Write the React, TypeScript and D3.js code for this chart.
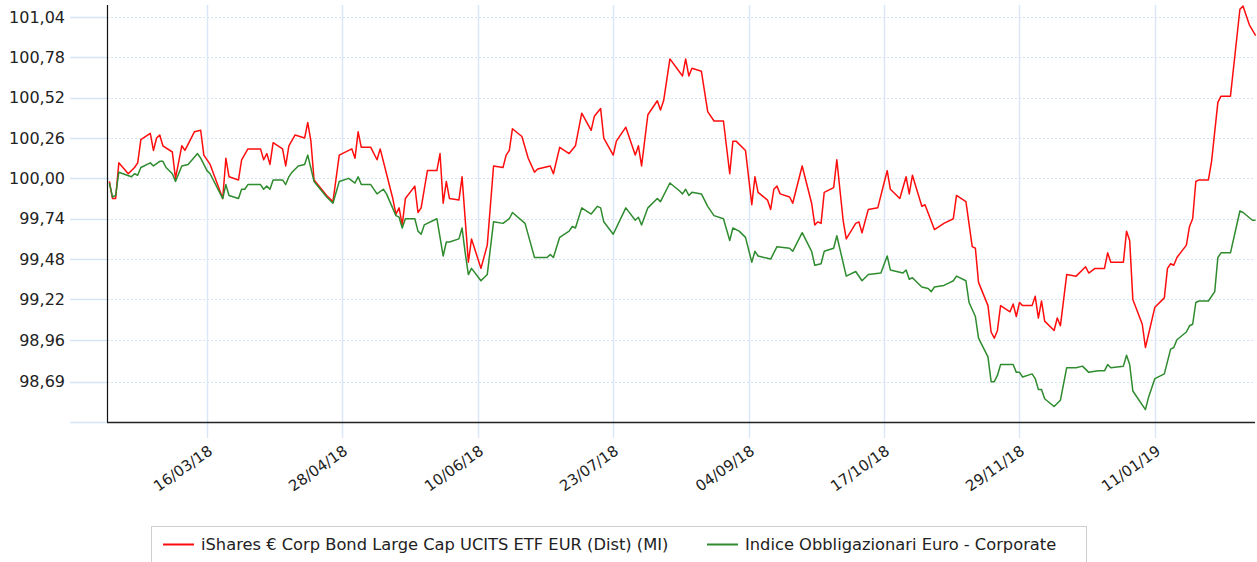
import React, { useEffect, useRef } from 'react';
import * as d3 from 'd3';

// iShares € Corp Bond Large Cap (red)
const isharesData: [string, number][] = [
  ['2018-02-13', 99.98], ['2018-02-14', 99.87], ['2018-02-15', 99.87], ['2018-02-16', 100.1], ['2018-02-19', 100.03],
  ['2018-02-21', 100.07], ['2018-02-22', 100.1], ['2018-02-23', 100.25], ['2018-02-26', 100.29], ['2018-02-27', 100.18],
  ['2018-02-28', 100.26], ['2018-03-01', 100.28], ['2018-03-02', 100.21], ['2018-03-05', 100.17], ['2018-03-06', 100.0],
  ['2018-03-08', 100.21], ['2018-03-09', 100.18], ['2018-03-12', 100.3], ['2018-03-14', 100.31], ['2018-03-15', 100.15],
  ['2018-03-17', 100.09], ['2018-03-19', 99.98], ['2018-03-21', 99.87], ['2018-03-22', 100.13], ['2018-03-23', 100.01],
  ['2018-03-26', 99.99], ['2018-03-27', 100.12], ['2018-03-29', 100.19], ['2018-04-01', 100.19], ['2018-04-02', 100.19],
  ['2018-04-03', 100.12], ['2018-04-04', 100.16], ['2018-04-05', 100.09], ['2018-04-06', 100.23], ['2018-04-09', 100.19],
  ['2018-04-10', 100.08], ['2018-04-11', 100.21], ['2018-04-13', 100.28], ['2018-04-16', 100.26], ['2018-04-17', 100.36],
  ['2018-04-18', 100.24], ['2018-04-19', 99.99], ['2018-04-23', 99.89], ['2018-04-25', 99.85], ['2018-04-27', 100.15],
  ['2018-05-01', 100.19], ['2018-05-02', 100.13], ['2018-05-03', 100.3], ['2018-05-04', 100.2], ['2018-05-07', 100.2],
  ['2018-05-09', 100.12], ['2018-05-10', 100.19], ['2018-05-14', 99.87], ['2018-05-15', 99.77], ['2018-05-16', 99.81],
  ['2018-05-17', 99.7], ['2018-05-18', 99.87], ['2018-05-21', 99.95], ['2018-05-22', 99.78], ['2018-05-23', 99.81],
  ['2018-05-25', 100.05], ['2018-05-28', 100.05], ['2018-05-29', 100.16], ['2018-05-30', 99.84], ['2018-05-31', 99.98],
  ['2018-06-01', 99.87], ['2018-06-04', 99.86], ['2018-06-05', 100.01], ['2018-06-07', 99.46], ['2018-06-08', 99.61],
  ['2018-06-11', 99.42], ['2018-06-13', 99.57], ['2018-06-15', 100.08], ['2018-06-18', 100.07], ['2018-06-19', 100.15],
  ['2018-06-20', 100.18], ['2018-06-21', 100.32], ['2018-06-24', 100.27], ['2018-06-26', 100.13], ['2018-06-28', 100.04],
  ['2018-06-29', 100.06], ['2018-07-03', 100.08], ['2018-07-04', 100.03], ['2018-07-06', 100.2], ['2018-07-09', 100.16],
  ['2018-07-11', 100.21], ['2018-07-13', 100.42], ['2018-07-16', 100.31], ['2018-07-17', 100.4], ['2018-07-19', 100.45],
  ['2018-07-20', 100.26], ['2018-07-23', 100.15], ['2018-07-24', 100.24], ['2018-07-27', 100.33], ['2018-07-30', 100.15],
  ['2018-07-31', 100.21], ['2018-08-01', 100.08], ['2018-08-03', 100.41], ['2018-08-06', 100.5], ['2018-08-07', 100.44],
  ['2018-08-08', 100.5], ['2018-08-10', 100.77], ['2018-08-14', 100.66], ['2018-08-15', 100.77], ['2018-08-16', 100.66],
  ['2018-08-17', 100.71], ['2018-08-20', 100.69], ['2018-08-22', 100.43], ['2018-08-24', 100.37], ['2018-08-27', 100.37],
  ['2018-08-29', 100.03], ['2018-08-30', 100.24], ['2018-08-31', 100.24], ['2018-09-03', 100.18], ['2018-09-05', 99.83],
  ['2018-09-06', 100.01], ['2018-09-07', 99.91], ['2018-09-10', 99.86], ['2018-09-11', 99.8], ['2018-09-12', 99.93],
  ['2018-09-13', 99.95], ['2018-09-14', 99.9], ['2018-09-17', 99.88], ['2018-09-18', 99.84], ['2018-09-19', 99.92],
  ['2018-09-21', 100.08], ['2018-09-24', 99.84], ['2018-09-25', 99.7], ['2018-09-26', 99.72], ['2018-09-27', 99.71],
  ['2018-09-28', 99.91], ['2018-10-01', 99.94], ['2018-10-02', 100.12], ['2018-10-04', 99.73], ['2018-10-05', 99.61],
  ['2018-10-08', 99.71], ['2018-10-09', 99.72], ['2018-10-10', 99.65], ['2018-10-12', 99.8], ['2018-10-15', 99.81],
  ['2018-10-17', 99.97], ['2018-10-18', 100.05], ['2018-10-19', 99.93], ['2018-10-22', 99.87], ['2018-10-24', 100.01],
  ['2018-10-25', 99.9], ['2018-10-26', 100.02], ['2018-10-29', 99.82], ['2018-10-30', 99.83], ['2018-11-02', 99.67],
  ['2018-11-05', 99.71], ['2018-11-08', 99.74], ['2018-11-09', 99.89], ['2018-11-12', 99.85], ['2018-11-14', 99.56],
  ['2018-11-15', 99.55], ['2018-11-16', 99.33], ['2018-11-19', 99.18], ['2018-11-20', 99.01], ['2018-11-21', 98.97],
  ['2018-11-22', 99.02], ['2018-11-23', 99.18], ['2018-11-26', 99.14], ['2018-11-27', 99.19], ['2018-11-28', 99.11],
  ['2018-11-29', 99.2], ['2018-11-30', 99.18], ['2018-12-03', 99.18], ['2018-12-04', 99.24], ['2018-12-05', 99.1],
  ['2018-12-06', 99.21], ['2018-12-07', 99.08], ['2018-12-10', 99.02], ['2018-12-11', 99.1], ['2018-12-12', 99.05],
  ['2018-12-14', 99.38], ['2018-12-17', 99.37], ['2018-12-20', 99.43], ['2018-12-21', 99.39], ['2018-12-23', 99.42],
  ['2018-12-26', 99.42], ['2018-12-27', 99.52], ['2018-12-28', 99.46], ['2019-01-01', 99.46], ['2019-01-02', 99.66],
  ['2019-01-03', 99.6], ['2019-01-04', 99.22], ['2019-01-07', 99.06], ['2019-01-08', 98.91], ['2019-01-11', 99.17],
  ['2019-01-14', 99.23], ['2019-01-15', 99.42], ['2019-01-16', 99.45], ['2019-01-17', 99.44], ['2019-01-18', 99.49],
  ['2019-01-21', 99.57], ['2019-01-22', 99.69], ['2019-01-23', 99.74], ['2019-01-24', 99.98], ['2019-01-25', 99.99],
  ['2019-01-28', 99.99], ['2019-01-29', 100.11], ['2019-01-31', 100.49], ['2019-02-01', 100.53], ['2019-02-04', 100.53],
  ['2019-02-07', 101.09], ['2019-02-08', 101.11], ['2019-02-10', 100.99], ['2019-02-12', 100.92],
];

// Indice Obbligazionari Euro - Corporate (green)
const indexData: [string, number][] = [
  ['2018-02-13', 99.97], ['2018-02-14', 99.88], ['2018-02-15', 99.89], ['2018-02-16', 100.04], ['2018-02-20', 100.01],
  ['2018-02-21', 100.03], ['2018-02-22', 100.02], ['2018-02-23', 100.07], ['2018-02-26', 100.1], ['2018-02-27', 100.08],
  ['2018-03-01', 100.11], ['2018-03-02', 100.11], ['2018-03-03', 100.07], ['2018-03-05', 100.03], ['2018-03-06', 99.98],
  ['2018-03-08', 100.08], ['2018-03-10', 100.09], ['2018-03-13', 100.16], ['2018-03-14', 100.13], ['2018-03-16', 100.05],
  ['2018-03-17', 100.03], ['2018-03-21', 99.87], ['2018-03-22', 99.96], ['2018-03-23', 99.89], ['2018-03-26', 99.87],
  ['2018-03-27', 99.93], ['2018-03-28', 99.93], ['2018-03-29', 99.96], ['2018-04-02', 99.96], ['2018-04-03', 99.93],
  ['2018-04-04', 99.95], ['2018-04-05', 99.93], ['2018-04-06', 99.99], ['2018-04-09', 99.99], ['2018-04-10', 99.96],
  ['2018-04-11', 100.01], ['2018-04-12', 100.04], ['2018-04-14', 100.08], ['2018-04-16', 100.09], ['2018-04-17', 100.15],
  ['2018-04-19', 99.98], ['2018-04-21', 99.93], ['2018-04-23', 99.88], ['2018-04-25', 99.84], ['2018-04-27', 99.98],
  ['2018-04-30', 100.0], ['2018-05-02', 99.97], ['2018-05-03', 100.01], ['2018-05-04', 99.96], ['2018-05-07', 99.96],
  ['2018-05-09', 99.9], ['2018-05-11', 99.93], ['2018-05-12', 99.9], ['2018-05-15', 99.76], ['2018-05-16', 99.75],
  ['2018-05-17', 99.68], ['2018-05-18', 99.74], ['2018-05-21', 99.74], ['2018-05-22', 99.66], ['2018-05-23', 99.64],
  ['2018-05-24', 99.7], ['2018-05-28', 99.74], ['2018-05-30', 99.5], ['2018-05-31', 99.59], ['2018-06-01', 99.59],
  ['2018-06-04', 99.61], ['2018-06-05', 99.68], ['2018-06-06', 99.52], ['2018-06-07', 99.38], ['2018-06-08', 99.42],
  ['2018-06-11', 99.34], ['2018-06-13', 99.38], ['2018-06-15', 99.72], ['2018-06-18', 99.71], ['2018-06-20', 99.74],
  ['2018-06-21', 99.78], ['2018-06-25', 99.71], ['2018-06-28', 99.49], ['2018-07-02', 99.49], ['2018-07-03', 99.51],
  ['2018-07-04', 99.49], ['2018-07-06', 99.62], ['2018-07-09', 99.66], ['2018-07-10', 99.69], ['2018-07-11', 99.68],
  ['2018-07-13', 99.81], ['2018-07-16', 99.77], ['2018-07-18', 99.82], ['2018-07-19', 99.81], ['2018-07-20', 99.72],
  ['2018-07-23', 99.64], ['2018-07-27', 99.81], ['2018-07-30', 99.73], ['2018-07-31', 99.75], ['2018-08-01', 99.7],
  ['2018-08-03', 99.81], ['2018-08-06', 99.87], ['2018-08-07', 99.85], ['2018-08-10', 99.97], ['2018-08-13', 99.92],
  ['2018-08-14', 99.9], ['2018-08-15', 99.93], ['2018-08-16', 99.89], ['2018-08-17', 99.91], ['2018-08-20', 99.9],
  ['2018-08-22', 99.82], ['2018-08-24', 99.76], ['2018-08-27', 99.74], ['2018-08-29', 99.6], ['2018-08-30', 99.68],
  ['2018-09-01', 99.66], ['2018-09-03', 99.62], ['2018-09-05', 99.46], ['2018-09-06', 99.53], ['2018-09-07', 99.5],
  ['2018-09-11', 99.48], ['2018-09-13', 99.56], ['2018-09-17', 99.55], ['2018-09-18', 99.53], ['2018-09-21', 99.65],
  ['2018-09-24', 99.53], ['2018-09-25', 99.44], ['2018-09-27', 99.45], ['2018-09-28', 99.53], ['2018-10-01', 99.55],
  ['2018-10-02', 99.63], ['2018-10-05', 99.37], ['2018-10-08', 99.4], ['2018-10-10', 99.34], ['2018-10-12', 99.38],
  ['2018-10-16', 99.39], ['2018-10-18', 99.5], ['2018-10-19', 99.41], ['2018-10-23', 99.39], ['2018-10-24', 99.41],
  ['2018-10-25', 99.35], ['2018-10-26', 99.36], ['2018-10-29', 99.3], ['2018-10-31', 99.29], ['2018-11-01', 99.27],
  ['2018-11-02', 99.3], ['2018-11-05', 99.31], ['2018-11-07', 99.33], ['2018-11-08', 99.34], ['2018-11-09', 99.37],
  ['2018-11-12', 99.34], ['2018-11-13', 99.2], ['2018-11-15', 99.11], ['2018-11-16', 98.97], ['2018-11-19', 98.85],
  ['2018-11-20', 98.69], ['2018-11-21', 98.69], ['2018-11-22', 98.73], ['2018-11-23', 98.8], ['2018-11-27', 98.8],
  ['2018-11-28', 98.75], ['2018-11-29', 98.75], ['2018-11-30', 98.72], ['2018-12-03', 98.74], ['2018-12-04', 98.71],
  ['2018-12-05', 98.64], ['2018-12-06', 98.64], ['2018-12-07', 98.58], ['2018-12-10', 98.53], ['2018-12-12', 98.57],
  ['2018-12-14', 98.78], ['2018-12-17', 98.78], ['2018-12-19', 98.79], ['2018-12-21', 98.75], ['2018-12-24', 98.76],
  ['2018-12-26', 98.76], ['2018-12-27', 98.8], ['2018-12-28', 98.78], ['2019-01-01', 98.79], ['2019-01-02', 98.86],
  ['2019-01-03', 98.8], ['2019-01-04', 98.63], ['2019-01-08', 98.51], ['2019-01-09', 98.59], ['2019-01-11', 98.71],
  ['2019-01-14', 98.74], ['2019-01-16', 98.9], ['2019-01-17', 98.91], ['2019-01-18', 98.96], ['2019-01-21', 99.01],
  ['2019-01-22', 99.05], ['2019-01-23', 99.06], ['2019-01-24', 99.2], ['2019-01-25', 99.21], ['2019-01-28', 99.21],
  ['2019-01-30', 99.27], ['2019-01-31', 99.49], ['2019-02-01', 99.52], ['2019-02-04', 99.52], ['2019-02-07', 99.79],
  ['2019-02-08', 99.78], ['2019-02-11', 99.73], ['2019-02-12', 99.73],
];

const xTickDates = ['2018-03-16', '2018-04-28', '2018-06-10', '2018-07-23', '2018-09-04', '2018-10-17', '2018-11-29', '2019-01-11'];
const yTickValues = [101.04, 100.78, 100.52, 100.26, 100.0, 99.74, 99.48, 99.22, 98.96, 98.69];
const yBottom = 98.43;
const xStart = '2018-02-12T06:00';
const xEnd = '2019-02-11T19:00';

const seriesNames = ['iShares € Corp Bond Large Cap UCITS ETF EUR (Dist) (MI)', 'Indice Obbligazionari Euro - Corporate'];
const seriesColors = ['#ff0d0d', '#2e8b2e'];

const WIDTH = 1257;
const HEIGHT = 562;
const FONT = '"DejaVu Sans", Verdana, sans-serif';

const App = () => {
  const svgRef = useRef<SVGSVGElement | null>(null);

  useEffect(() => {
    if (!svgRef.current) return;
    const svg = d3.select(svgRef.current);
    svg.selectAll('*').remove();

    const parseDay = d3.utcParse('%Y-%m-%d');
    const parseTime = d3.utcParse('%Y-%m-%dT%H:%M');
    const fmtDate = d3.utcFormat('%d/%m/%y');
    const fmtVal = (v: number) => d3.format('.2f')(v).replace('.', ',');

    // plot box
    const left = 107;
    const right = 1255;
    const top = 5;
    const bottom = 422;

    const x = d3
      .scaleUtc()
      .domain([parseTime(xStart) as Date, parseTime(xEnd) as Date])
      .range([left, right]);
    const y = d3.scaleLinear().domain([yBottom, yTickValues[0]]).range([bottom, 17]);

    svg.append('rect').attr('width', WIDTH).attr('height', HEIGHT).attr('fill', '#fff');

    // horizontal grid (dotted) + short solid ticks on the left
    const hTicks = [...yTickValues, yBottom];
    const hg = svg.append('g');
    hTicks.forEach((v) => {
      const yy = Math.round(y(v)) + 0.5;
      hg.append('line')
        .attr('x1', 70).attr('x2', left)
        .attr('y1', yy).attr('y2', yy)
        .attr('stroke', '#d6e5f6').attr('stroke-width', 1.5);
      hg.append('line')
        .attr('x1', left).attr('x2', right)
        .attr('y1', yy).attr('y2', yy)
        .attr('stroke', '#d3e1f2').attr('stroke-width', 1)
        .attr('stroke-dasharray', '2,2');
    });
    // y labels
    yTickValues.forEach((v) => {
      svg.append('text')
        .attr('x', 65)
        .attr('y', y(v))
        .attr('dy', '0.36em')
        .attr('text-anchor', 'end')
        .attr('font-family', FONT)
        .attr('font-size', 16)
        .attr('fill', '#222')
        .text(fmtVal(v));
    });

    // vertical grid + rotated date labels
    const vg = svg.append('g');
    xTickDates.forEach((s) => {
      const d = parseDay(s) as Date;
      const xx = Math.round(x(d)) + 0.5;
      vg.append('line')
        .attr('x1', xx).attr('x2', xx)
        .attr('y1', top).attr('y2', 438)
        .attr('stroke', '#d9e7f7').attr('stroke-width', 1.5);
      svg.append('text')
        .attr('transform', `translate(${xx + 3},${449}) rotate(-35)`)
        .attr('text-anchor', 'end')
        .attr('dy', '0.35em')
        .attr('font-family', FONT)
        .attr('font-size', 15)
        .attr('fill', '#222')
        .text(fmtDate(d));
    });

    // series lines
    const line = d3
      .line<[string, number]>()
      .x((d) => x(parseDay(d[0]) as Date))
      .y((d) => y(d[1]));

    [isharesData, indexData].forEach((data, i) => {
      svg.append('path')
        .datum(data)
        .attr('fill', 'none')
        .attr('stroke', seriesColors[i])
        .attr('stroke-width', 1.5)
        .attr('stroke-linejoin', 'round')
        .attr('d', line);
    });

    // axes lines
    svg.append('line')
      .attr('x1', left + 0.5).attr('x2', left + 0.5)
      .attr('y1', top).attr('y2', bottom)
      .attr('stroke', '#111').attr('stroke-width', 1.2);
    svg.append('line')
      .attr('x1', left).attr('x2', right)
      .attr('y1', bottom + 0.5).attr('y2', bottom + 0.5)
      .attr('stroke', '#222').attr('stroke-width', 1.5);

    // legend
    const lg = svg.append('g');
    lg.append('rect')
      .attr('x', 151.5).attr('y', 526.5)
      .attr('width', 935).attr('height', 50)
      .attr('fill', '#fff').attr('stroke', '#cfcfcf');
    const items = [
      { lx: 163, tx: 201 },
      { lx: 707, tx: 745 },
    ];
    items.forEach((it, i) => {
      lg.append('line')
        .attr('x1', it.lx).attr('x2', it.lx + 31)
        .attr('y1', 544.5).attr('y2', 544.5)
        .attr('stroke', seriesColors[i]).attr('stroke-width', 2);
      lg.append('text')
        .attr('x', it.tx).attr('y', 544)
        .attr('dy', '0.35em')
        .attr('font-family', FONT)
        .attr('font-size', 16.3)
        .attr('fill', '#222')
        .text(seriesNames[i]);
    });
  }, []);

  return (
    <svg
      ref={svgRef}
      width={WIDTH}
      height={HEIGHT}
      style={{ position: 'absolute', left: 0, top: 0 }}
    />
  );
};

export default App;
